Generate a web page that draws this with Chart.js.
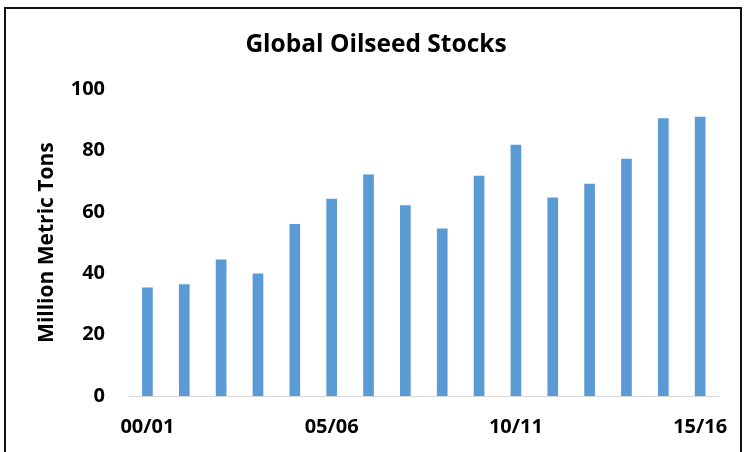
<!DOCTYPE html>
<html>
<head>
<meta charset="utf-8">
<script src="https://cdn.jsdelivr.net/npm/chart.js@4.4.0/dist/chart.umd.min.js"></script>
<style>
  html, body { margin: 0; padding: 0; background: #fff; }
  #wrap { position: relative; width: 747px; height: 452px; overflow: hidden; }
  #frame { position: absolute; left: 4px; top: 7px; width: 738px; height: 460px; border: 2px solid #111; border-bottom: none; box-sizing: border-box; }
  canvas { position: absolute; left: 0; top: 0; }
</style>
</head>
<body>
<div id="wrap">
  <canvas id="stocksChart" width="747" height="452"></canvas>
  <div id="frame"></div>
</div>
<script>
// marketing years 2000/01 .. 2015/16
var seasons = ['00/01', '01/02', '02/03', '03/04', '04/05', '05/06', '06/07', '07/08',
               '08/09', '09/10', '10/11', '11/12', '12/13', '13/14', '14/15', '15/16'];
// ending stocks, million metric tons
var stocks = [35.4, 36.4, 44.5, 39.9, 56.1, 64.3, 72.2, 62.2,
              54.6, 71.8, 81.9, 64.7, 69.2, 77.3, 90.5, 91.0];
var yTicks = [0, 20, 40, 60, 80, 100];

document.addEventListener('DOMContentLoaded', function() {
    var ctx = document.getElementById('stocksChart').getContext('2d');
    var fontFam = '"Open Sans", Lato, "Liberation Sans", sans-serif';

    new Chart(ctx, {
        type: 'bar',
        data: {
            labels: seasons,
            datasets: [{
                label: 'Global Oilseed Stocks',
                data: stocks,
                backgroundColor: '#5B9BD5',
                borderWidth: 0,
                barPercentage: 0.29,
                categoryPercentage: 1
            }]
        },
        options: {
            responsive: false,
            animation: false,
            // left padding keeps the title centred where the original had it
            layout: { padding: { left: 32, right: 27, top: 0, bottom: 0 } },
            plugins: {
                legend: { display: false },
                tooltip: { enabled: false },
                title: {
                    display: true,
                    text: 'Global Oilseed Stocks',
                    color: '#000',
                    font: { family: fontFam, size: 24.5, weight: 'bold' },
                    padding: { top: 30, bottom: 29.8 }
                }
            },
            scales: {
                x: {
                    grid: { display: false, drawTicks: false },
                    border: { display: true, color: '#d9d9d9', width: 1 },
                    ticks: {
                        autoSkip: false,
                        maxRotation: 0,
                        padding: 19,
                        color: '#000',
                        font: { family: fontFam, size: 20, weight: 'bold' },
                        callback: function(val, i) {
                            return i % 5 === 0 ? seasons[i] : '';
                        }
                    },
                    afterFit: function(axis) { axis.height = 56; }
                },
                y: {
                    min: yTicks[0],
                    max: yTicks[yTicks.length - 1],
                    grid: { display: false, drawTicks: false },
                    border: { display: false },
                    afterBuildTicks: function(axis) {
                        axis.ticks = yTicks.map(function(v) { return { value: v }; });
                    },
                    ticks: {
                        padding: 24,
                        color: '#000',
                        font: { family: fontFam, size: 20, weight: 'bold' }
                    },
                    title: {
                        display: true,
                        text: 'Million Metric Tons',
                        color: '#000',
                        font: { family: fontFam, size: 21, weight: 'bold' },
                        padding: { top: 2.4, bottom: 0 }
                    },
                    afterFit: function(axis) { axis.width = 97; }
                }
            }
        }
    });
});
</script>
</body>
</html>
